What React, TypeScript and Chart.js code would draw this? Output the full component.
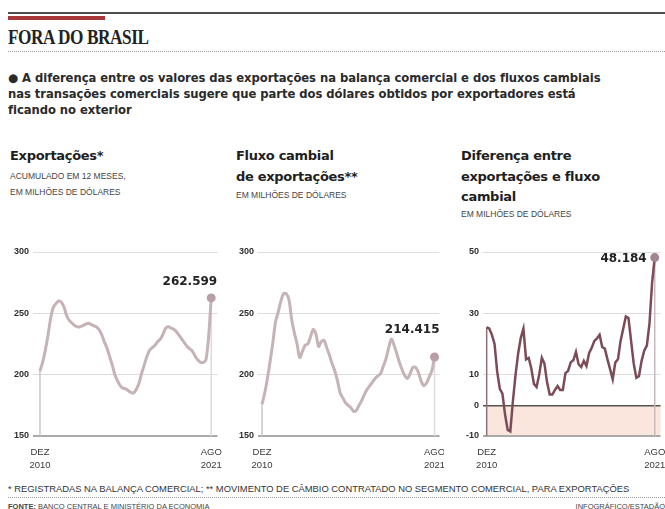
import React, { useEffect, useRef } from "react";
import { Chart, registerables } from "chart.js";

Chart.register(...registerables);

// ---------- DATA ----------
const months = [
  "dez/10",
  "fev/11", "abr/11", "jun/11", "ago/11", "out/11", "dez/11",
  "fev/12", "abr/12", "jun/12", "ago/12", "out/12", "dez/12",
  "fev/13", "abr/13", "jun/13", "ago/13", "out/13", "dez/13",
  "fev/14", "abr/14", "jun/14", "ago/14", "out/14", "dez/14",
  "fev/15", "abr/15", "jun/15", "ago/15", "out/15", "dez/15",
  "fev/16", "abr/16", "jun/16", "ago/16", "out/16", "dez/16",
  "fev/17", "abr/17", "jun/17", "ago/17", "out/17", "dez/17",
  "fev/18", "abr/18", "jun/18", "ago/18", "out/18", "dez/18",
  "fev/19", "abr/19", "jun/19", "ago/19", "out/19", "dez/19",
  "fev/20", "abr/20", "jun/20", "ago/20", "out/20", "dez/20",
  "fev/21", "abr/21", "jun/21", "ago/21",
];

const exportsValues = [
  203, 210, 220, 232, 246, 255, 258, 260, 259, 255,
  248, 244, 242, 240, 239, 239, 240, 241, 242, 241,
  240, 239, 237, 233, 227, 222, 215, 208, 200, 195,
  191, 189, 188.5, 187, 185.5, 185, 188, 193, 201, 208,
  215, 220, 222, 224, 227, 229, 233, 238, 239, 238,
  237, 235, 232, 229, 226, 223, 221, 219, 215, 212,
  210, 210, 212, 230, 262.599,
];

const fluxoValues = [
  176, 185, 197, 211, 226, 243, 251, 260, 266, 266,
  261, 245, 234, 225, 214, 219, 224, 225, 231, 237,
  233, 223, 227, 228, 222, 216, 209, 203, 195, 185,
  181, 177, 175, 173, 170, 171, 175, 179, 184, 188,
  191, 194, 197, 199, 201, 207, 213, 222, 229, 224,
  217, 210, 204, 199, 197, 201, 206, 206, 202, 195,
  191, 193, 198, 203, 214.415,
];

const diffValues = [
  25.5, 25, 23, 20, 11, 5.4, 3.8, -3, -8, -8.5,
  1.5, 10, 17, 22, 25, 15, 15.5, 12, 7, 6,
  10, 15.5, 13.6, 7.5, 3.5, 3.5, 5, 6.3, 5, 5,
  10.5, 11.2, 14, 14.7, 17.4, 13.4, 12.5, 14.5, 12.8, 17,
  18.8, 21, 21.8, 23, 19, 18.5, 15, 11.8, 8.5, 14,
  15, 21, 25, 29, 28.5, 21, 13.6, 9, 9.5, 14.5,
  17.8, 19.5, 26.6, 40, 48.184,
];

const levelTicks = [150, 200, 250, 300];
const diffTicks = [-10, 0, 10, 30, 50];
const xStartLabel = ["DEZ", "2010"];
const xEndLabel = ["AGO", "2021"];
const endLabels = ["262.599", "214.415", "48.184"];

const descLines = [
  "● A diferença entre os valores das exportações na balança comercial e dos fluxos cambiais",
  "nas transações comerciais sugere que parte dos dólares obtidos por exportadores está",
  "ficando no exterior",
];

// ---------- CHART HELPERS ----------
const SANS = "'Liberation Sans', Arial, sans-serif";

const decorPlugin = {
  id: "decor",
  beforeDraw(chart: any, _a: any, opts: any) {
    if (!opts.negFill) return;
    const { ctx, chartArea, scales } = chart;
    const x0 = scales.x.getPixelForValue(0);
    const y0 = scales.y.getPixelForValue(0);
    ctx.save();
    ctx.fillStyle = opts.negFill;
    ctx.fillRect(x0, y0, chartArea.right - x0, chartArea.bottom - y0);
    ctx.restore();
  },
  beforeDatasetsDraw(chart: any, _a: any, opts: any) {
    const { ctx, chartArea } = chart;
    const meta = chart.getDatasetMeta(0);
    const pts = [meta.data[0], meta.data[meta.data.length - 1]];
    ctx.save();
    ctx.lineWidth = 1.5;
    pts.forEach((p: any, i: number) => {
      ctx.strokeStyle = i === 0 ? opts.dropColor : opts.dropColorEnd;
      ctx.beginPath();
      ctx.moveTo(p.x, p.y);
      ctx.lineTo(p.x, chartArea.bottom);
      ctx.stroke();
    });
    ctx.restore();
  },
  afterDatasetsDraw(chart: any, _a: any, opts: any) {
    const { ctx } = chart;
    const meta = chart.getDatasetMeta(0);
    const p = meta.data[meta.data.length - 1];
    ctx.save();
    ctx.font = "bold 12px 'DejaVu Sans', sans-serif";
    ctx.fillStyle = "#222";
    ctx.textAlign = "right";
    ctx.textBaseline = "middle";
    ctx.fillText(opts.text, p.x + opts.dx, p.y + opts.dy);
    ctx.restore();
  },
};

type Params = {
  values: number[];
  yTicks: number[];
  xMin: number;
  xMax: number;
  color: string;
  lineWidth: number;
  dotColor: string;
  dropColor: string;
  dropColorEnd: string;
  yAxisWidth: number;
  padRight: number;
  tension: number;
  label: string;
  dx: number;
  dy: number;
  negFill?: string;
};

function makeConfig(p: Params): any {
  const n = p.values.length;
  const yMin = p.yTicks[0];
  const yMax = p.yTicks[p.yTicks.length - 1];
  return {
    type: "line",
    data: {
      labels: months,
      datasets: [
        {
          data: p.values.map((v, i) => ({ x: i, y: v })),
          borderColor: p.color,
          borderWidth: p.lineWidth,
          tension: p.tension,
          pointRadius: (c: any) => (c.dataIndex === n - 1 ? 4.5 : 0),
          pointBackgroundColor: p.dotColor,
          pointBorderWidth: 0,
          clip: false,
        },
      ],
    },
    options: {
      animation: false,
      responsive: false,
      devicePixelRatio: 1,
      layout: { padding: { left: 0, right: p.padRight, top: 22, bottom: 0 } },
      plugins: {
        legend: { display: false },
        tooltip: { enabled: false },
        title: { display: false },
        decor: { text: p.label, dx: p.dx, dy: p.dy, dropColor: p.dropColor, dropColorEnd: p.dropColorEnd, negFill: p.negFill },
      },
      scales: {
        x: {
          type: "linear",
          min: p.xMin,
          max: p.xMax,
          grid: { display: false },
          border: { display: false },
          afterBuildTicks: (s: any) => {
            s.ticks = [{ value: 0 }, { value: n - 1 }];
          },
          afterFit: (s: any) => {
            s.height = 39;
            s.paddingLeft = 0;
            s.paddingRight = 0;
          },
          ticks: {
            autoSkip: false,
            maxRotation: 0,
            padding: 1,
            color: "#3a3a3a",
            font: { family: SANS, size: 9.5, lineHeight: 1.45 },
            callback: (v: number) => (v === 0 ? xStartLabel : xEndLabel),
          },
        },
        y: {
          min: yMin,
          max: yMax,
          border: { display: false },
          grid: {
            drawTicks: false,
            color: (c: any) => {
              const v = c.tick ? c.tick.value : null;
              if (v === yMin) return "#aaaaaa";
              if (v === 0) return "#555555";
              return "#dddddd";
            },
            lineWidth: (c: any) => {
              const v = c.tick ? c.tick.value : null;
              if (v === yMin) return 2;
              if (v === 0) return 1.5;
              return 1;
            },
          },
          afterBuildTicks: (s: any) => {
            s.ticks = p.yTicks.map((v) => ({ value: v }));
          },
          afterFit: (s: any) => {
            s.width = p.yAxisWidth;
            s.paddingTop = 0;
            s.paddingBottom = 0;
          },
          ticks: {
            padding: 4,
            color: "#2e2e2e",
            font: { family: SANS, size: 9, weight: "bold" },
            callback: (v: number) => String(v),
          },
        },
      },
    },
    plugins: [decorPlugin],
  };
}

function ChartBox({ left, top, width, height, config }: any) {
  const ref = useRef<HTMLCanvasElement>(null);
  useEffect(() => {
    const chart = new Chart(ref.current as HTMLCanvasElement, config);
    return () => chart.destroy();
  }, []);
  return (
    <div style={{ position: "absolute", left, top, width, height }}>
      <canvas ref={ref} width={width} height={height} style={{ width, height, display: "block" }} />
    </div>
  );
}

const abs = (s: any): any => ({ position: "absolute", whiteSpace: "nowrap", ...s });
const headStyle = { fontFamily: "'DejaVu Sans', sans-serif", fontWeight: "bold", fontSize: 13, color: "#1e1e1e", letterSpacing: -0.3, lineHeight: "14px" };
const subStyle = { fontFamily: SANS, fontSize: 8.5, color: "#444", lineHeight: "10px" };

export default function App() {
  useEffect(() => {
    document.body.style.margin = "0";
    document.body.style.background = "#fff";
  }, []);

  const c1 = makeConfig({
    values: exportsValues, yTicks: levelTicks, xMin: -2.6, xMax: 66.35,
    color: "#c5b3b6", lineWidth: 3, dotColor: "#b99ea5", dropColor: "#c8c8c8", dropColorEnd: "#dcdcdc",
    yAxisWidth: 33, padRight: 4, tension: 0.3, label: endLabels[0], dx: 6, dy: -16,
  });
  const c2 = makeConfig({
    values: fluxoValues, yTicks: levelTicks, xMin: -1.5, xMax: 65.85,
    color: "#c5b3b6", lineWidth: 3, dotColor: "#b99ea5", dropColor: "#c8c8c8", dropColorEnd: "#dcdcdc",
    yAxisWidth: 36, padRight: 4, tension: 0.3, label: endLabels[1], dx: 5, dy: -27,
  });
  const c3 = makeConfig({
    values: diffValues, yTicks: diffTicks, xMin: -1.4, xMax: 66.2,
    color: "#7b4c57", lineWidth: 2.5, dotColor: "#a3858e", dropColor: "#8d7078", dropColorEnd: "#c9b8bc",
    yAxisWidth: 39, padRight: 0, tension: 0, label: endLabels[2], dx: -8, dy: 1,
    negFill: "#fbe6dd",
  });

  return (
    <div style={{ position: "relative", width: 665, height: 509, overflow: "hidden", background: "#fff" }}>
      <div style={abs({ left: 8, top: 12, width: 657, height: 2, background: "#4d4d4d" })} />
      <div style={abs({ left: 8, top: 16, width: 97, height: 4, background: "#a6383c" })} />
      <div style={abs({ left: 8, top: 25, fontFamily: "'Liberation Serif', serif", fontWeight: "bold", fontSize: 21, color: "#222", transform: "scaleX(0.82)", transformOrigin: "left top", letterSpacing: -0.5 })}>
        FORA DO BRASIL
      </div>
      <div style={abs({ left: 8, top: 51, width: 657, height: 0, borderTop: "1px dotted #9a9a9a" })} />

      {descLines.map((t, i) => (
        <div key={i} style={abs({ left: 8, top: 71 + i * 16, fontFamily: "'DejaVu Sans', sans-serif", fontWeight: "bold", fontSize: 11.6, letterSpacing: -0.05, color: "#2a2a2a", lineHeight: "14px" })}>
          {t}
        </div>
      ))}

      <div style={abs({ left: 10, top: 149, ...headStyle })}>Exportações*</div>
      <div style={abs({ left: 10, top: 171, ...subStyle })}>ACUMULADO EM 12 MESES,</div>
      <div style={abs({ left: 10, top: 187, ...subStyle })}>EM MILHÕES DE DÓLARES</div>

      <div style={abs({ left: 236, top: 149, ...headStyle })}>Fluxo cambial</div>
      <div style={abs({ left: 236, top: 170, ...headStyle })}>de exportações**</div>
      <div style={abs({ left: 236, top: 190, ...subStyle })}>EM MILHÕES DE DÓLARES</div>

      <div style={abs({ left: 461, top: 149, ...headStyle })}>Diferença entre</div>
      <div style={abs({ left: 461, top: 170, ...headStyle })}>exportações e fluxo</div>
      <div style={abs({ left: 461, top: 190, ...headStyle })}>cambial</div>
      <div style={abs({ left: 461, top: 209, ...subStyle })}>EM MILHÕES DE DÓLARES</div>

      <ChartBox left={0} top={230} width={222} height={245} config={c1} />
      <ChartBox left={222} top={230} width={222} height={245} config={c2} />
      <ChartBox left={444} top={230} width={221} height={245} config={c3} />

      <div style={abs({ left: 8, top: 484, fontFamily: SANS, fontSize: 9.4, color: "#333", lineHeight: "10px" })}>
        * REGISTRADAS NA BALANÇA COMERCIAL; ** MOVIMENTO DE CÂMBIO CONTRATADO NO SEGMENTO COMERCIAL, PARA EXPORTAÇÕES
      </div>
      <div style={abs({ left: 8, top: 497, width: 657, height: 0, borderTop: "1px dotted #9a9a9a" })} />
      <div style={abs({ left: 8, top: 502, fontFamily: SANS, fontSize: 7.5, color: "#444", lineHeight: "9px" })}>
        <b>FONTE:</b> BANCO CENTRAL E MINISTÉRIO DA ECONOMIA
      </div>
      <div style={abs({ right: 0, top: 502, fontFamily: SANS, fontSize: 7.5, color: "#444", lineHeight: "9px" })}>
        INFOGRÁFICO/ESTADÃO
      </div>
    </div>
  );
}
